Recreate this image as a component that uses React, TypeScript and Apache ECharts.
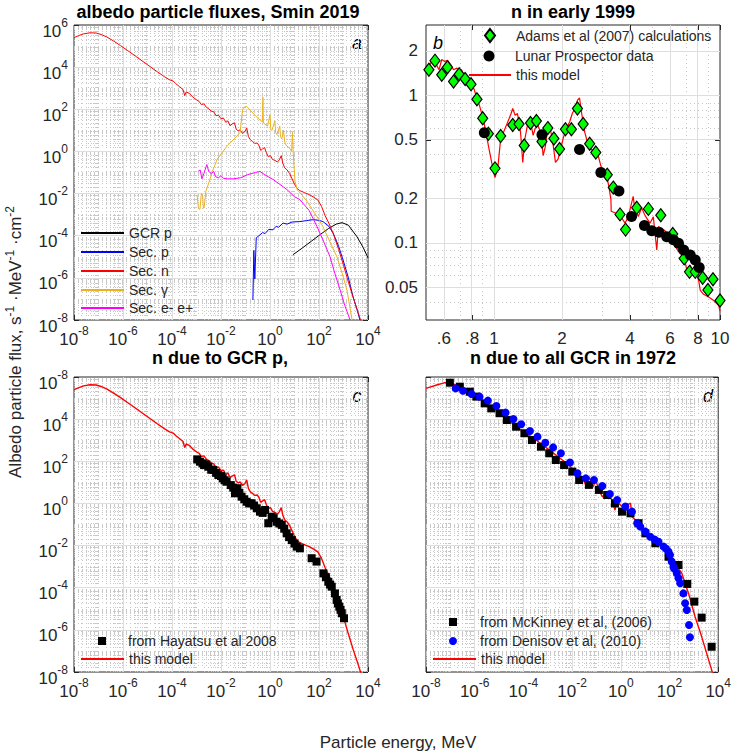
import React, { useEffect, useRef } from "react";
import * as echarts from "echarts";

const FONT = "'Liberation Sans', Arial, Helvetica, sans-serif";
const INK = "#262626";

// ---------- panel a: albedo particle fluxes, Smin 2019 (energy MeV, flux) ----------
const gcrP: [number, number][] = [
  [8.71, 1.26e-5], [20.0, 2.51e-5], [50.1, 5.62e-5], [110, 1.12e-4], [251, 2.24e-4],
  [501, 3.55e-4], [871, 4.17e-4], [1585, 3.16e-4], [3548, 8.91e-5], [6310, 2.82e-5], [10000, 8.91e-6],
];
const secP: [number, number][] = [
  [0.2, 8.91e-8], [0.219, 2.0e-5], [0.24, 8.91e-7], [0.275, 7.94e-5], [0.355, 1e-4], [0.501, 1.41e-4],
  [0.631, 1.26e-4], [0.891, 2.0e-4], [1.32, 1.91e-4], [1.78, 2.82e-4], [2.24, 2.51e-4], [3.39, 3.98e-4],
  [5.01, 3.55e-4], [7.94, 4.47e-4], [16.6, 4.68e-4], [31.6, 5.25e-4], [57.5, 5.75e-4], [100, 5.37e-4],
  [145, 4.68e-4], [251, 2.82e-4], [372, 1.38e-4], [631, 3.16e-5], [955, 7.24e-6], [1585, 1e-6],
  [2455, 1.26e-7], [3548, 3.16e-8], [4677, 1e-8],
];
const secN: [number, number][] = [
  [1e-8, 2.51e5], [1.58e-8, 3.16e5], [2.51e-8, 3.8e5], [4.47e-8, 4.27e5], [7.94e-8, 4.17e5],
  [1.26e-7, 3.55e5], [2.14e-7, 2.75e5], [3.98e-7, 1.78e5], [7.94e-7, 1.05e5], [1.58e-6, 6.03e4],
  [3.16e-6, 3.39e4], [6.31e-6, 1.91e4], [1.26e-5, 1.07e4], [2.51e-5, 6.03e3], [5.01e-5, 3.47e3],
  [7.94e-5, 2.51e3], [1.12e-4, 2.19e3], [1.41e-4, 1.66e3], [2.0e-4, 1.2e3], [2.82e-4, 871],
  [3.31e-4, 447], [3.8e-4, 661], [5.01e-4, 575], [7.08e-4, 380], [1e-3, 282], [1.26e-3, 240],
  [1.58e-3, 166], [2.0e-3, 182], [2.51e-3, 126], [3.16e-3, 105], [3.98e-3, 83.2], [5.01e-3, 75.9],
  [6.31e-3, 50.1], [7.94e-3, 52.5], [1e-2, 35.5], [1.26e-2, 38.0], [1.58e-2, 24.0], [1.91e-2, 28.2],
  [2.34e-2, 16.6], [2.82e-2, 20.0], [3.55e-2, 22.9], [4.17e-2, 11.2], [5.01e-2, 9.55], [6.03e-2, 10.5],
  [7.59e-2, 7.08], [9.55e-2, 8.91], [0.112, 13.2], [0.132, 5.01], [0.158, 3.55], [0.191, 3.02],
  [0.24, 2.4], [0.302, 2.51], [0.355, 1.91], [0.417, 1.12], [0.501, 1.32], [0.603, 1.51],
  [0.708, 0.891], [0.851, 0.562], [1.05, 0.631], [1.26, 0.417], [1.58, 0.38], [2.0, 0.316],
  [2.4, 0.398], [2.88, 0.631], [3.31, 0.282], [3.98, 0.166], [5.01, 0.132], [6.31, 0.0891],
  [7.94, 0.0501], [9.55, 0.0316], [12.0, 0.0191], [15.8, 0.0141], [25.1, 0.0112], [39.8, 8.91e-3],
  [63.1, 6.61e-3], [89.1, 5.01e-3], [126, 2.51e-3], [178, 8.91e-4], [251, 3.98e-4], [398, 1.12e-4],
  [631, 2.24e-5], [1000, 3.98e-6], [1585, 6.31e-7], [2512, 1.12e-7], [3981, 2.24e-8], [5623, 6.31e-9],
];
const secGamma: [number, number][] = [
  [1.05e-3, 8.9e-3], [1.2e-3, 2.0e-3], [1.38e-3, 1.78e-3], [1.58e-3, 1e-2], [1.78e-3, 7.9e-3],
  [1.91e-3, 2.0e-3], [2.09e-3, 2.5e-3], [2.4e-3, 1.26e-2], [3.16e-3, 3.16e-2], [4.47e-3, 0.112],
  [6.92e-3, 0.417], [0.0112, 0.891], [0.0174, 1.74], [0.0316, 3.55], [0.0603, 7.94], [0.0759, 100],
  [0.0891, 126], [0.112, 138], [0.158, 89.1], [0.251, 50.1], [0.398, 30.2], [0.49, 25.1], [0.513, 372],
  [0.537, 22.4], [0.794, 15.8], [1.0, 56.2], [1.07, 11.2], [1.2, 10.0], [1.58, 28.2], [1.7, 7.94],
  [1.91, 6.31], [2.51, 15.8], [2.69, 5.01], [3.02, 3.98], [3.55, 10.0], [3.98, 2.82], [4.47, 2.0],
  [6.31, 1.41], [7.59, 1.0], [8.32, 7.94], [8.91, 0.794], [10.5, 0.0372], [13.2, 0.0141], [16.6, 0.0112],
  [31.6, 4.47e-3], [83.2, 7.94e-4], [145, 2.69e-4], [282, 5.01e-5], [537, 1e-5], [891, 1.58e-6],
  [1380, 2.69e-7], [2239, 1e-8],
];
const secE: [number, number][] = [
  [1.15e-3, 0.112], [1.41e-3, 0.132], [1.66e-3, 0.0501], [2.0e-3, 0.0891], [2.63e-3, 0.24],
  [3.16e-3, 0.112], [3.98e-3, 0.0891], [5.01e-3, 0.112], [6.03e-3, 0.0631], [7.94e-3, 0.0562],
  [0.01, 0.0708], [0.0126, 0.0525], [0.0178, 0.0501], [0.0316, 0.0501], [0.0631, 0.0562],
  [0.126, 0.0794], [0.251, 0.1], [0.389, 0.112], [0.631, 0.0759], [1.32, 0.0468], [2.82, 0.0251],
  [4.9, 0.0155], [10, 7.08e-3], [16.6, 5.13e-3], [39.8, 1.58e-3], [83.2, 2.69e-4], [158, 5.01e-5],
  [282, 1e-5], [447, 1.58e-6], [724, 2.69e-7], [1122, 5.01e-8], [1862, 1e-8],
];

// ---------- panel b: n in early 1999 ----------
const adams: [number, number][] = [
  [0.515, 1.49], [0.548, 1.72], [0.587, 1.38], [0.622, 1.55], [0.662, 1.24], [0.701, 1.39],
  [0.745, 1.29], [0.791, 1.19], [0.84, 0.94], [0.891, 0.7], [0.944, 0.55], [1.01, 0.32], [1.07, 0.53],
  [1.21, 0.63], [1.29, 0.64], [1.36, 0.457], [1.45, 0.65], [1.54, 0.67], [1.63, 0.486], [1.73, 0.6],
  [1.84, 0.51], [1.95, 0.433], [2.07, 0.59], [2.2, 0.59], [2.34, 0.815], [2.48, 0.64], [2.65, 0.47],
  [2.82, 0.41], [3.17, 0.29], [3.37, 0.237], [3.61, 0.156], [3.82, 0.123], [4.28, 0.173], [4.82, 0.17],
  [5.47, 0.154], [6.18, 0.115], [6.94, 0.0785], [7.33, 0.0636], [7.77, 0.0636], [8.38, 0.058],
  [8.84, 0.048], [9.31, 0.0567], [10.0, 0.0407],
];
const lunar: [number, number][] = [
  [0.906, 0.558], [1.63, 0.54], [2.39, 0.43], [2.97, 0.3], [3.57, 0.225], [4.06, 0.151], [4.63, 0.131],
  [4.99, 0.121], [5.37, 0.118], [5.81, 0.11], [6.22, 0.105], [6.55, 0.0995], [6.9, 0.0896],
  [7.38, 0.0827], [7.77, 0.0765], [8.09, 0.068],
];
const modelB: [number, number][] = [
  [0.507, 1.49], [0.525, 1.66], [0.543, 1.79], [0.556, 1.61], [0.571, 1.49], [0.587, 1.75], [0.605, 1.7],
  [0.623, 1.73], [0.644, 1.61], [0.662, 1.49], [0.685, 1.53], [0.701, 1.45], [0.718, 1.49], [0.745, 1.31],
  [0.764, 1.24], [0.791, 1.21], [0.818, 1.09], [0.84, 0.954], [0.861, 0.859], [0.891, 0.715],
  [0.921, 0.564], [0.944, 0.457], [0.97, 0.37], [0.997, 0.3], [1.01, 0.277], [1.04, 0.325], [1.07, 0.508],
  [1.11, 0.578], [1.15, 0.66], [1.19, 0.753], [1.21, 0.815], [1.24, 0.733], [1.27, 0.753], [1.31, 0.564],
  [1.34, 0.351], [1.37, 0.508], [1.41, 0.643], [1.45, 0.66], [1.49, 0.535], [1.52, 0.594], [1.56, 0.627],
  [1.61, 0.564], [1.65, 0.39], [1.69, 0.457], [1.73, 0.627], [1.78, 0.578], [1.82, 0.482], [1.87, 0.351],
  [1.92, 0.37], [1.97, 0.433], [2.03, 0.521], [2.09, 0.594], [2.16, 0.66], [2.22, 0.753], [2.28, 0.815],
  [2.34, 0.929], [2.39, 0.96], [2.45, 0.733], [2.52, 0.564], [2.59, 0.482], [2.65, 0.445], [2.73, 0.422],
  [2.81, 0.411], [2.89, 0.39], [2.97, 0.333], [3.05, 0.3], [3.15, 0.284], [3.22, 0.243], [3.29, 0.197],
  [3.3, 0.164], [3.49, 0.158], [3.64, 0.151], [3.8, 0.136], [3.93, 0.151], [4.13, 0.207], [4.2, 0.168],
  [4.35, 0.151], [4.5, 0.173], [4.66, 0.153], [4.9, 0.136], [5.07, 0.15], [5.25, 0.0895], [5.34, 0.129],
  [5.52, 0.124], [5.71, 0.121], [5.91, 0.109], [6.12, 0.105], [6.33, 0.0953], [6.55, 0.0873],
  [6.9, 0.0828], [7.13, 0.0653], [7.38, 0.0707], [7.64, 0.062], [7.91, 0.0653], [8.18, 0.0477],
  [8.46, 0.0448], [8.91, 0.0429], [9.38, 0.0407], [9.87, 0.0376], [10.0, 0.0345],
];

// ---------- panel c: n due to GCR p ----------
const hayatsu: [number, number][] = [
  [1.07e-3, 123], [1.38e-3, 95.5], [1.78e-3, 79.4], [2.04e-3, 66.1], [2.51e-3, 70.8], [3.02e-3, 55],
  [3.98e-3, 39.8], [4.9e-3, 38.9], [6.31e-3, 28.2], [7.76e-3, 22.4], [0.01, 20], [0.0117, 15.5],
  [0.0141, 12.6], [0.017, 10.7], [0.0251, 7.41], [0.0316, 5.62], [0.0372, 3.02], [0.0468, 5.25],
  [0.0562, 3.16], [0.0692, 2.09], [0.0891, 1.58], [0.112, 1.2], [0.141, 1.0], [0.178, 1.02],
  [0.224, 0.794], [0.288, 0.589], [0.389, 0.407], [0.501, 0.355], [0.631, 0.49], [0.851, 0.115],
  [1.17, 0.234], [1.41, 0.2], [1.86, 0.135], [2.4, 0.112], [3.02, 0.0955], [3.8, 0.0631], [4.79, 0.038],
  [6.03, 0.0251], [7.76, 0.0182], [10, 0.0126], [12.3, 8.91e-3], [16.6, 7.41e-3], [50.1, 2.51e-3],
  [79.4, 1.74e-3], [151, 4.79e-4], [191, 3.16e-4], [240, 1.91e-4], [282, 1.41e-4], [331, 1.12e-4],
  [447, 5.37e-5], [525, 2.63e-5], [589, 1.78e-5], [676, 1.26e-5], [759, 8.91e-6], [851, 6.17e-6],
  [1047, 3.55e-6],
];

// ---------- panel d: n due to all GCR in 1972 ----------
const mckinney: [number, number][] = [
  [9.55e-8, 5.37e5], [2.45e-7, 3.47e5], [6.31e-7, 2.0e5], [1.17e-6, 1.17e5], [2.57e-6, 5.62e4],
  [4.79e-6, 3.24e4], [1.05e-5, 1.91e4], [2.09e-5, 9.12e3], [5.01e-5, 4.37e3], [1.1e-4, 2.14e3],
  [2.24e-4, 1.02e3], [5.25e-4, 490], [1.15e-3, 240], [2.14e-3, 115], [4.68e-3, 66.1], [0.0102, 32.4],
  [0.0195, 12.9], [0.049, 7.59], [0.126, 4.37], [0.275, 2.51], [0.575, 1.0], [1.12, 0.407],
  [2.51, 0.339], [5.37, 0.115], [10.2, 0.038], [26.3, 0.0129], [91.2, 2.95e-3], [234, 1.2e-3],
  [537, 1.51e-4], [1047, 2.19e-5], [2089, 3.8e-6], [5370, 1.58e-7],
];
const denisov: [number, number][] = [
  [1.66e-7, 2.88e5], [3.31e-7, 2.24e5], [7.41e-7, 1.55e5], [1.58e-6, 1.17e5], [3.47e-6, 7.59e4],
  [7.76e-6, 4.17e4], [1.86e-5, 2.04e4], [3.89e-5, 1.02e4], [8.13e-5, 5.75e3], [1.86e-4, 2.75e3],
  [3.8e-4, 1.48e3], [7.94e-4, 759], [1.66e-3, 457], [3.47e-3, 240], [8.13e-3, 87.1], [0.0166, 26.9],
  [0.0363, 15.5], [0.0794, 12.9], [0.174, 6.76], [0.355, 2.82], [0.708, 1.45], [1.55, 0.708],
  [2.88, 0.407], [4.68, 0.115], [6.31, 0.0794], [10.2, 0.0457], [16.2, 0.0263], [25.1, 0.0191],
  [35.5, 0.0151], [57.5, 8.91e-3], [72.4, 7.08e-3], [91.2, 5.13e-3], [105, 3.55e-3], [123, 1.74e-3],
  [145, 1e-3], [158, 7.94e-4], [200, 4.79e-4], [234, 2.82e-4], [275, 1.62e-4], [372, 5.37e-5],
  [437, 1.82e-5], [513, 8.71e-6], [631, 1.7e-6], [692, 4.47e-7],
];
const modelD: [number, number][] = [
  [1e-8, 2.88e5], [2.75e-8, 4.17e5], [6.03e-8, 5.37e5], [1.12e-7, 5.01e5], [3.31e-7, 2.88e5],
  [1.17e-6, 1.17e5], [7.76e-6, 2.69e4], [5.01e-5, 4.37e3], [3.31e-4, 1.02e3], [1.15e-3, 347],
  [3.98e-3, 115], [7.59e-3, 66.1], [0.0141, 26.9], [0.0263, 18.6], [0.0363, 7.59], [0.049, 18.6],
  [0.0724, 6.17], [0.0933, 12.9], [0.126, 4.37], [0.174, 2.09], [0.275, 2.51], [0.447, 1.45],
  [0.575, 0.49], [0.708, 1.2], [1.12, 0.708], [1.82, 0.851], [2.51, 1.02], [2.88, 0.234], [3.98, 0.162],
  [6.31, 0.0794], [10.2, 0.038], [16.2, 0.0219], [26.3, 0.0151], [49, 8.91e-3], [91.2, 4.27e-3],
  [145, 1.45e-3], [234, 7.94e-4], [316, 5.01e-4], [603, 5.37e-5], [1122, 4.17e-6], [2089, 4.79e-7],
  [5370, 1.26e-8], [5754, 8.91e-9],
];

// ---------- axes: tick values ----------
const decadeX = [-8, 4]; // exponent range of the energy axes (a, c, d)
const decadeY = [-8, 6]; // exponent range of the flux axes (a, c, d)
const bXRange = [0.5, 10];
const bYRange = [0.03, 3];
const bXTicks = [0.6, 0.8, 1, 2, 4, 6, 8, 10];
const bYTicks = [0.05, 0.1, 0.2, 0.5, 1, 2];

const lg = (pts: [number, number][]) => pts.map(([e, f]) => [Math.log10(e), Math.log10(f)]);

const MAJOR = { color: "#dedede", width: 1, type: "solid" as const };
const MINOR = { color: "#c8c8c8", width: 1, type: [1, 3] as any };

function minorLogs(lo: number, hi: number, skip: number[]) {
  const out: number[] = [];
  for (let n = Math.floor(Math.log10(lo)) - 1; n <= Math.ceil(Math.log10(hi)); n++) {
    for (let k = 1; k <= 9; k++) {
      const v = k * Math.pow(10, n);
      if (v > lo * 1.0001 && v < hi * 0.9999 && !skip.some((s) => Math.abs(s - v) / v < 1e-6)) out.push(Math.log10(v));
    }
  }
  return out;
}

function gridSeries(g: number, xMaj: number[], xMin: number[], yMaj: number[], yMin: number[]) {
  const data: any[] = [];
  xMin.forEach((v) => data.push({ xAxis: v, lineStyle: MINOR }));
  yMin.forEach((v) => data.push({ yAxis: v, lineStyle: MINOR }));
  xMaj.forEach((v) => data.push({ xAxis: v, lineStyle: MAJOR }));
  yMaj.forEach((v) => data.push({ yAxis: v, lineStyle: MAJOR }));
  return {
    type: "line",
    name: "_grid" + g,
    xAxisIndex: 2 * g,
    yAxisIndex: 2 * g,
    data: [],
    symbol: "none",
    silent: true,
    z: 1,
    lineStyle: { opacity: 0 },
    markLine: {
      silent: true,
      z: 1,
      symbol: ["none", "none"],
      label: { show: false },
      emphasis: { disabled: true },
      animation: false,
      data,
    },
  };
}

function decadeGrid(g: number) {
  const xMaj: number[] = [];
  const xMin: number[] = [];
  for (let n = decadeX[0]; n < decadeX[1]; n++) {
    if (n !== decadeX[0] && n % 2 === 0) xMaj.push(n);
    else if (n !== decadeX[0]) xMin.push(n);
    for (let k = 2; k <= 9; k++) xMin.push(n + Math.log10(k));
  }
  const yMaj: number[] = [];
  const yMin: number[] = [];
  for (let n = decadeY[0]; n < decadeY[1]; n++) {
    if (n !== decadeY[0] && n % 2 === 0) yMaj.push(n);
    else if (n !== decadeY[0]) yMin.push(n);
    for (let k = 2; k <= 9; k++) yMin.push(n + Math.log10(k));
  }
  return gridSeries(g, xMaj, xMin, yMaj, yMin);
}

const RICH = {
  b: { fontSize: 17, lineHeight: 23, verticalAlign: "bottom", fontFamily: FONT, color: INK },
  s: { fontSize: 12, lineHeight: 13, verticalAlign: "top", fontFamily: FONT, color: INK },
};

const powFmt = (v: number) => `{b|10}{s|${Math.round(v)}}`;

const tickStyle = { show: true, inside: true, length: 5, lineStyle: { color: INK, width: 1 } };
const noLine = { show: false, onZero: false };

function decAxis(g: number, dim: "x" | "y", main: boolean, showLabel: boolean, fmt?: (v: number) => string) {
  const rng = dim === "x" ? decadeX : decadeY;
  const ax: any = {
    type: "value",
    gridIndex: g,
    min: rng[0],
    max: rng[1],
    interval: 2,
    position: dim === "x" ? (main ? "bottom" : "top") : main ? "left" : "right",
    axisLine: noLine,
    axisTick: tickStyle,
    splitLine: { show: false },
    axisLabel: { show: false },
  };
  if (main && showLabel) {
    ax.axisLabel =
      dim === "x"
        ? { show: true, formatter: fmt || powFmt, rich: RICH, margin: 5, hideOverlap: false }
        : { show: true, formatter: fmt || powFmt, rich: RICH, margin: 6, padding: [6, 0, 0, 0], hideOverlap: false };
  }
  return ax;
}

function bAxis(dim: "x" | "y", main: boolean) {
  const rng = dim === "x" ? bXRange : bYRange;
  const ticks = (dim === "x" ? bXTicks : bYTicks).map((v) => Math.log10(v));
  const ax: any = {
    type: "value",
    gridIndex: 1,
    min: Math.log10(rng[0]),
    max: Math.log10(rng[1]),
    position: dim === "x" ? (main ? "bottom" : "top") : main ? "left" : "right",
    axisLine: noLine,
    axisTick: { ...tickStyle, customValues: ticks },
    splitLine: { show: false },
    axisLabel: { show: false },
  };
  if (main) {
    ax.axisLabel = {
      show: true,
      customValues: ticks,
      fontSize: 17,
      fontFamily: FONT,
      color: INK,
      margin: dim === "x" ? 10 : 8,
      hideOverlap: false,
      formatter: (v: number) => {
        const n = Math.pow(10, v);
        if (dim === "x") {
          const r = Math.round(n * 10) / 10;
          return r < 1 ? "." + Math.round(r * 10) : String(Math.round(r));
        }
        return String(parseFloat(n.toPrecision(2)));
      },
    };
  }
  return ax;
}

function lineS(name: string, pts: [number, number][], g: number, color: string, width = 1) {
  return {
    type: "line",
    name,
    data: lg(pts),
    xAxisIndex: 2 * g,
    yAxisIndex: 2 * g,
    symbol: "none",
    showSymbol: false,
    lineStyle: { color, width },
    itemStyle: { color },
    z: 3,
    clip: true,
  };
}

function scatterS(name: string, pts: [number, number][], g: number, symbol: string, size: any, color: string, border?: string, z = 4) {
  return {
    type: "scatter",
    name,
    data: lg(pts),
    xAxisIndex: 2 * g,
    yAxisIndex: 2 * g,
    symbol,
    symbolSize: size,
    itemStyle: border ? { color, borderColor: border, borderWidth: 1.2, opacity: 1 } : { color, opacity: 1 },
    z,
  };
}

// one legend row: icon centred at cx, row centred at cy, text starting at textX
function legendRow(name: string, cx: number, cy: number, iw: number, ih: number, textX: number, isLine: boolean) {
  const left = cx - iw / 2;
  const pad = Math.max(0, textX - (left + iw + 5));
  const row: any = {
    orient: "vertical",
    selectedMode: false,
    padding: 0,
    left,
    top: cy - Math.max(ih, 14) / 2,
    itemWidth: iw,
    itemHeight: ih,
    textStyle: { fontSize: 14, fontFamily: FONT, color: INK, padding: [0, 0, 0, pad] },
    data: [name],
  };
  if (isLine) row.itemStyle = { opacity: 0 };
  return row;
}

export default function App() {
  const ref = useRef<HTMLDivElement>(null);
  useEffect(() => {
    if (!ref.current) return;
    const chart = echarts.init(ref.current, undefined, { renderer: "svg" });

    const bXMaj = bXTicks.filter((v) => v < 10).map((v) => Math.log10(v));
    const bXMin = minorLogs(bXRange[0], bXRange[1], bXTicks);
    const bYMaj = bYTicks.map((v) => Math.log10(v));
    const bYMin = minorLogs(bYRange[0], bYRange[1], bYTicks);

    const cYFmt = (v: number) => powFmt(Math.round(v) === decadeY[1] ? -8 : v);

    const option: any = {
      animation: false,
      backgroundColor: "#ffffff",
      textStyle: { fontFamily: FONT },
      grid: [
        { left: 74, top: 25, width: 294, height: 295 },
        { left: 426, top: 25, width: 294, height: 295 },
        { left: 74, top: 377, width: 294, height: 295 },
        { left: 426, top: 377, width: 294, height: 295 },
      ].map((g) => ({ ...g, show: true, borderColor: INK, borderWidth: 1, backgroundColor: "#fff", containLabel: false })),
      xAxis: [
        decAxis(0, "x", true, true),
        decAxis(0, "x", false, false),
        bAxis("x", true),
        bAxis("x", false),
        decAxis(2, "x", true, true),
        decAxis(2, "x", false, false),
        decAxis(3, "x", true, true),
        decAxis(3, "x", false, false),
      ],
      yAxis: [
        decAxis(0, "y", true, true),
        decAxis(0, "y", false, false),
        bAxis("y", true),
        bAxis("y", false),
        decAxis(2, "y", true, true, cYFmt),
        decAxis(2, "y", false, false),
        decAxis(3, "y", true, false),
        decAxis(3, "y", false, false),
      ],
      legend: [
        legendRow("GCR p", 101.5, 233, 43, 2, 127, true),
        legendRow("Sec. p", 101.5, 252, 43, 2, 127, true),
        legendRow("Sec. n", 101.5, 271, 43, 2, 127, true),
        legendRow("Sec. γ", 101.5, 290, 43, 2, 127, true),
        legendRow("Sec. e- e+", 101.5, 308, 43, 2, 127, true),
        legendRow("Adams et al (2007) calculations", 489, 35, 10, 13, 515, false),
        legendRow("Lunar Prospector data", 489, 56, 11, 11, 515, false),
        legendRow("this model", 489, 75, 42, 2, 515, true),
        legendRow("from Hayatsu et al 2008", 102, 641, 8, 8, 128, false),
        legendRow("this model", 101.5, 659, 43, 2, 128, true),
        legendRow("from McKinney et al, (2006)", 453, 622, 8, 8, 480, false),
        legendRow("from Denisov et al, (2010)", 453, 641, 8, 8, 480, false),
        legendRow("this model", 453.5, 659, 43, 2, 480, true),
      ],
      series: [
        decadeGrid(0),
        gridSeries(1, bXMaj, bXMin, bYMaj, bYMin),
        decadeGrid(2),
        decadeGrid(3),
        // a
        lineS("GCR p", gcrP, 0, "#000000"),
        lineS("Sec. p", secP, 0, "#0000ff"),
        lineS("Sec. n", secN, 0, "#ff0000"),
        lineS("Sec. γ", secGamma, 0, "#edb120"),
        lineS("Sec. e- e+", secE, 0, "#ff00ff"),
        // b
        scatterS("Adams et al (2007) calculations", adams, 1, "diamond", [10, 13], "#00ff00", "#000000", 4),
        scatterS("Lunar Prospector data", lunar, 1, "circle", 11, "#000000", undefined, 5),
        lineS("this model", modelB, 1, "#ff0000", 1.2),
        // c
        scatterS("from Hayatsu et al 2008", hayatsu, 2, "rect", 8, "#000000"),
        lineS("this model", secN, 2, "#ff0000", 1.4),
        // d
        scatterS("from McKinney et al, (2006)", mckinney, 3, "rect", 8, "#000000"),
        scatterS("from Denisov et al, (2010)", denisov, 3, "circle", 8, "#0000ff"),
        lineS("this model", modelD, 3, "#ff0000", 1.4),
      ],
      graphic: [
        { type: "text", x: 218, y: 12, style: { text: "albedo particle fluxes, Smin 2019", font: `bold 18px ${FONT}`, fill: "#000", align: "center", verticalAlign: "middle" } },
        { type: "text", x: 573, y: 12, style: { text: "n in early 1999", font: `bold 18px ${FONT}`, fill: "#000", align: "center", verticalAlign: "middle" } },
        { type: "text", x: 220, y: 358, style: { text: "n due to GCR p,", font: `bold 18px ${FONT}`, fill: "#000", align: "center", verticalAlign: "middle" } },
        { type: "text", x: 573, y: 358, style: { text: "n due to all GCR in 1972", font: `bold 18px ${FONT}`, fill: "#000", align: "center", verticalAlign: "middle" } },
        { type: "text", x: 357, y: 43, style: { text: "a", font: `italic 18px ${FONT}`, fill: "#000", align: "center", verticalAlign: "middle" } },
        { type: "text", x: 438, y: 43, style: { text: "b", font: `italic 18px ${FONT}`, fill: "#000", align: "center", verticalAlign: "middle" } },
        { type: "text", x: 357, y: 396, style: { text: "c", font: `italic 18px ${FONT}`, fill: "#000", align: "center", verticalAlign: "middle" } },
        { type: "text", x: 708, y: 396, style: { text: "d", font: `italic 18px ${FONT}`, fill: "#000", align: "center", verticalAlign: "middle" } },
        {
          type: "text",
          x: 15,
          y: 342,
          rotation: Math.PI / 2,
          style: {
            text: "Albedo particle flux, s{s|-1} ·MeV{s|-1} ·cm{s|-2}",
            font: `17px ${FONT}`,
            fill: INK,
            align: "center",
            verticalAlign: "middle",
            lineHeight: 23,
            rich: { s: { fontSize: 12, lineHeight: 13, verticalAlign: "top", fontFamily: FONT, fill: INK } },
          },
        },
        { type: "text", x: 398, y: 742, style: { text: "Particle energy, MeV", font: `17px ${FONT}`, fill: INK, align: "center", verticalAlign: "middle" } },
      ],
    };
    chart.setOption(option);
    return () => chart.dispose();
  }, []);
  return (
    <div
      ref={ref}
      style={{ position: "fixed", left: 0, top: 0, width: 734, height: 755, background: "#fff" }}
    />
  );
}
